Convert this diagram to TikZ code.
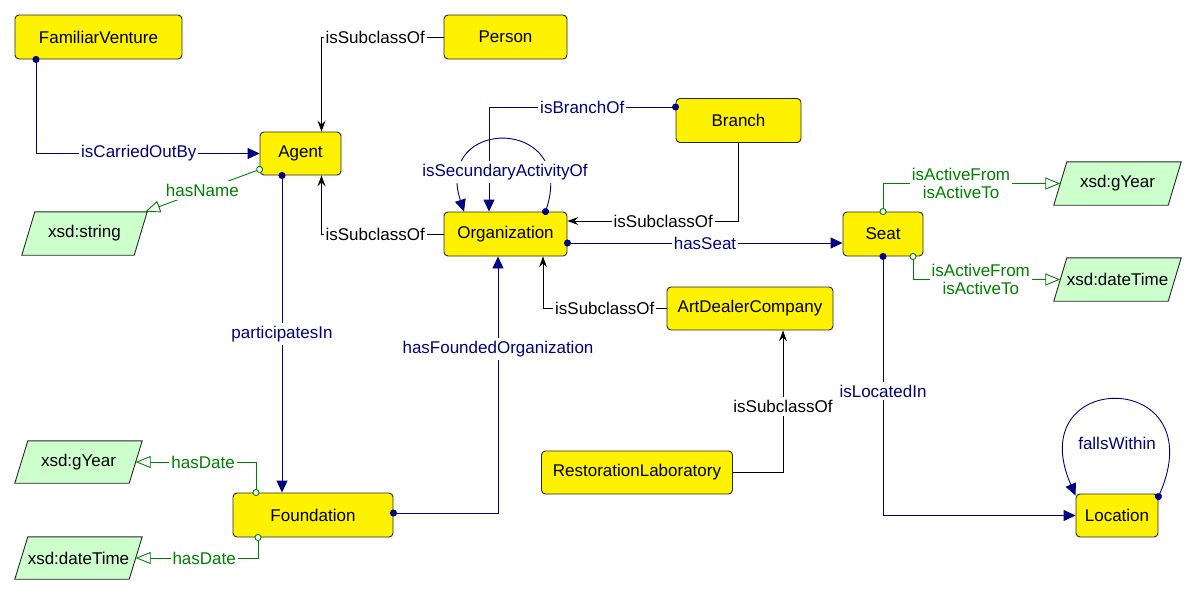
\documentclass[tikz,border=0pt]{standalone}
\usepackage{fontspec}
\setmainfont{Liberation Sans}
\usetikzlibrary{arrows.meta,backgrounds}
\definecolor{navy}{RGB}{0,0,128}
\definecolor{dgreen}{RGB}{0,128,0}
\definecolor{lgreen}{RGB}{204,255,204}
\definecolor{bord}{RGB}{40,40,40}
\tikzset{
  every node/.style={font=\fontsize{17}{18}\selectfont},
  cls/.style={draw=bord, line width=0.9pt, fill=yellow, rounded corners=4pt, minimum height=44pt, inner sep=0pt},
  dtype/.style={rectangle, minimum width=114pt, minimum height=43pt, inner sep=0pt},
  dtshape/.style={draw=bord, line width=0.9pt, fill=lgreen},
  lbl/.style={fill=white, inner xsep=2pt, inner ysep=3pt},
  op/.style={draw=navy, line width=0.9pt, {Circle[length=7pt]}-{Triangle[length=12pt,width=11pt]}, shorten <=-3.5pt},
  opl/.style={lbl, text=navy},
  sc/.style={draw=black, line width=0.9pt, -{Stealth[length=11pt,width=8pt,inset=4pt]}},
  scl/.style={lbl, text=black},
  dp/.style={draw=dgreen, line width=0.9pt, {Circle[open,fill=white,length=7pt]}-{Triangle[open,fill=white,length=15pt,width=12pt]}, shorten <=-3.5pt},
  dpl/.style={lbl, text=dgreen, align=center},
}
\newcommand\dtpara[1]{\draw[dtshape] ([xshift=-6.5pt]#1.south west) -- ([xshift=6.5pt]#1.north west) -- ([xshift=6.5pt]#1.north east) -- ([xshift=-6.5pt]#1.south east) -- cycle;}
\begin{document}
\begin{tikzpicture}[x=1pt,y=-1pt]
\useasboundingbox (0,0) rectangle (1196,595);

% classes
\node[cls, minimum width=167pt] (fv) at (98.5,37) {FamiliarVenture};
\node[cls, minimum width=123pt] (person) at (505.5,37) {Person};
\node[cls, minimum width=81pt, minimum height=43pt] (agent) at (300.5,153.5) {Agent};
\node[cls, minimum width=123pt] (org) at (505.5,234) {Organization};
\node[cls, minimum width=125pt] (branch) at (738.5,120.5) {Branch};
\node[cls, minimum width=80pt] (seat) at (883,234) {Seat};
\node[cls, minimum width=166pt, minimum height=43pt] (adc) at (750,308.5) {ArtDealerCompany};
\node[cls, minimum width=191pt, minimum height=43pt] (rl) at (637,472.5) {RestorationLaboratory};
\node[cls, minimum width=82pt, minimum height=43pt] (loc) at (1117,515.5) {Location};
\node[cls, minimum width=160pt] (found) at (313,515) {Foundation};

% datatypes
\node[dtype, minimum width=112pt] (xstr) at (84.5,233.5) {xsd:string};
\node[dtype, minimum height=42pt] (gyl) at (78.5,462) {xsd:gYear};
\node[dtype, minimum height=42pt] (dtl) at (78.5,558) {xsd:dateTime};
\node[dtype] (gyr) at (1117.5,183.5) {xsd:gYear};
\node[dtype] (dtr) at (1117.5,279.5) {xsd:dateTime};
\begin{scope}[on background layer]
\dtpara{xstr}
\dtpara{gyl}
\dtpara{dtl}
\dtpara{gyr}
\dtpara{dtr}
\end{scope}

% object properties
\draw[op] ([xshift=-62.5pt]fv.south) |- node[opl,pos=0.73]{isCarriedOutBy} (agent.west);
\draw[op] ([xshift=-18.5pt]agent.south) -- node[opl,pos=0.5]{participatesIn} ([xshift=-31pt]found.north);
\draw[op] ([yshift=2pt]found.east) -| node[opl,pos=0.82]{hasFoundedOrganization} ([xshift=-7.5pt]org.south);
\draw[op] ([yshift=13.5pt]branch.west) -| node[opl,pos=0.25]{isBranchOf} ([xshift=-16.5pt]org.north);
\draw[op] ([xshift=40pt]org.north) .. controls (577,116) and (433,116) .. ([xshift=-41.5pt]org.north);
\node[opl] (lsa) at (505,172) {isSecundaryActivityOf};
\draw[op] ([yshift=-9pt]org.east) -- node[opl]{hasSeat} ([yshift=-9pt]seat.west);
\draw[op] (seat.south) |- node[opl,pos=0.26]{isLocatedIn} (loc.west);
\draw[op] ([yshift=-3pt]loc.north east) .. controls (1215,368) and (1020,368) .. ([yshift=-2pt]loc.north west);
\node[text=navy] (lfw) at (1117,443) {fallsWithin};

% subclass
\draw[sc] (person.west) -| node[scl,pos=0.28]{isSubclassOf} ([xshift=21pt]agent.north);
\draw[sc] (org.west) -| node[scl,pos=0.28]{isSubclassOf} ([xshift=21pt]agent.south);
\draw[sc] (adc.west) -| node[scl,pos=0.25]{isSubclassOf} ([xshift=37.5pt]org.south);
\draw[sc] (branch.south) |- node[scl,pos=0.72]{isSubclassOf} ([yshift=13pt]org.east);
\draw[sc] (rl.east) -| node[scl,pos=0.733]{isSubclassOf} ([xshift=33pt]adc.south);

% datatype properties
\draw[dp] ([yshift=6pt]agent.south west) -- node[dpl]{hasName} ([xshift=4.5pt]xstr.north east);
\draw[dp] (seat.north) |- node[dpl,pos=0.72]{isActiveFrom\\isActiveTo} (gyr.west);
\draw[dp] ([xshift=30pt]seat.south) |- node[dpl,pos=0.73]{isActiveFrom\\isActiveTo} (dtr.west);
\draw[dp] ([xshift=-57pt]found.north) |- node[dpl,pos=0.72]{hasDate} (gyl.east);
\draw[dp] ([xshift=-55pt]found.south) |- node[dpl,pos=0.72]{hasDate} (dtl.east);
\end{tikzpicture}
\end{document}
